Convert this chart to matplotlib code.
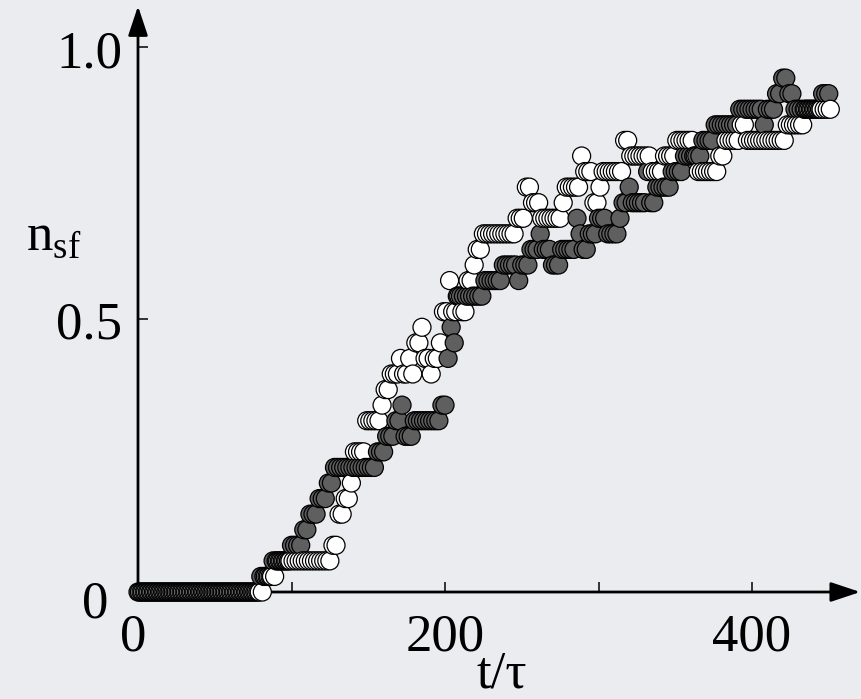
import numpy as np
import matplotlib.pyplot as plt

plt.rcParams['font.family'] = ['Liberation Serif', 'DejaVu Serif']
plt.rcParams['mathtext.fontset'] = 'custom'
plt.rcParams['mathtext.rm'] = 'Liberation Serif'

N_LEVELS = 35  # n_sf moves in steps of 1/35

# step changes: time where a level starts, and the level k
dark_t = [0, 80, 88, 100, 108, 112, 118, 123, 127, 156, 161, 167, 171, 173, 180, 197,
          201, 203, 205, 208, 226, 237, 247, 250, 256, 261, 264, 270, 276, 285, 287,
          289, 294, 300, 306, 313, 315, 319, 322, 331, 333, 337, 348, 356, 368, 376,
          392, 407, 410, 416, 420, 423, 428, 446]
dark_k = [0, 1, 2, 3, 4, 5, 6, 7, 8, 9, 10, 11, 12, 10, 11, 12,
          15, 17, 16, 19, 20, 21, 20, 21, 22, 23, 22, 21, 22, 24, 23,
          22, 23, 24, 23, 24, 25, 26, 25, 27, 25, 26, 27, 28, 29, 30,
          31, 30, 31, 32, 33, 32, 31, 32]

white_t = [0, 83, 91, 127, 130, 134, 138, 141, 148, 158, 160, 164, 170, 173, 176, 179,
           181, 184, 187, 190, 193, 196, 198, 202, 204, 208, 211, 214, 218, 221, 224,
           247, 252, 257, 263, 277, 279, 288, 291, 297, 300, 303, 317, 320, 334, 342,
           351, 362, 364, 379, 382, 392, 396, 422, 434]
white_k = [0, 1, 2, 3, 5, 6, 7, 9, 11, 12, 13, 14, 15, 14, 15, 14,
           16, 17, 15, 14, 15, 16, 18, 20, 18, 19, 18, 20, 21, 22, 23,
           24, 26, 25, 24, 25, 26, 28, 27, 25, 26, 27, 29, 28, 27, 28,
           29, 28, 27, 28, 29, 30, 29, 30, 31]

# sample times of the two runs
dark_samples = np.arange(0, 451, 2)
white_samples = np.arange(1, 452, 2)

x_ticks = [0, 100, 200, 300, 400]
x_labels = {0: '0', 200: '200', 400: '400'}
y_ticks = [0.5, 1.0]


def levels(change_t, change_k, samples):
    idx = np.searchsorted(change_t, samples, side='right') - 1
    return np.asarray(change_k)[idx] / N_LEVELS


BG = '#ebecef'
DARK = '#5f5f5f'

fig = plt.figure(figsize=(8.61, 6.99), dpi=100, facecolor=BG)
ax = fig.add_axes([0, 0, 1, 1])
ax.set_facecolor(BG)
ax.set_xlim(-89.9, 471.0)
ax.set_ylim(-0.1963, 1.0862)
ax.set_axis_off()

# axes with arrow heads
arrow = dict(arrowstyle='-|>,head_length=0.9,head_width=0.3', lw=2.0, color='black',
             mutation_scale=20, shrinkA=0, shrinkB=0)
ax.annotate('', xy=(0, 1.075), xytext=(0, 0), arrowprops=arrow, zorder=2)
ax.annotate('', xy=(470.5, 0), xytext=(0, 0), arrowprops=arrow, zorder=2)
ax.vlines(x_ticks[1:], 0, 0.0185, color='black', lw=1.1, zorder=2)
ax.hlines(y_ticks, 0, 6.8, color='black', lw=1.1, zorder=2)

# both runs drawn in time order so later points sit on top
t_all = np.concatenate([dark_samples, white_samples])
n_all = np.concatenate([levels(dark_t, dark_k, dark_samples),
                        levels(white_t, white_k, white_samples)])
c_all = np.array([DARK] * len(dark_samples) + ['white'] * len(white_samples))
order = np.argsort(t_all, kind='stable')
ax.scatter(t_all[order], n_all[order], s=168, c=c_all[order], edgecolors='black',
           linewidths=0.9, zorder=3, clip_on=False)

fs = 38
for t, lab in x_labels.items():
    ax.text(t - (3.3 if t == 0 else 0), -0.107, lab, ha='center', va='baseline', fontsize=fs)
ax.text(-10.4, 0.9615, '1.0', ha='right', va='baseline', fontsize=fs)
ax.text(-10.4, 0.4651, '0.5', ha='right', va='baseline', fontsize=fs)
ax.text(-19.5, -0.0459, '0', ha='right', va='baseline', fontsize=fs)

ax.text(237, -0.176, 't/τ', ha='center', va='baseline', fontsize=fs)
ax.text(-73, 0.6275, r'n$_{\mathrm{sf}}$', ha='left', va='baseline', fontsize=fs)

fig.savefig('out.png', dpi=100, facecolor=BG)
